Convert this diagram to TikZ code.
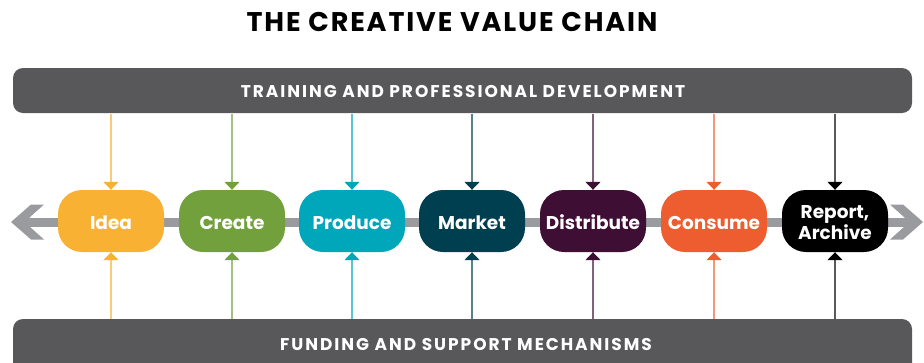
\documentclass[tikz,border=0pt]{standalone}
\usepackage{fontspec}
\setmainfont{Poppins}
\newfontfamily\barfont{Poppins}[LetterSpace=11.5]
\newfontfamily\titlefont{Poppins}[LetterSpace=7]
\usetikzlibrary{arrows.meta}

% stage colours
\definecolor{cIdea}{HTML}{F8B133}
\definecolor{cCreate}{HTML}{71A03D}
\definecolor{cProduce}{HTML}{00A6B9}
\definecolor{cMarket}{HTML}{003F50}
\definecolor{cDistribute}{HTML}{3F0E34}
\definecolor{cConsume}{HTML}{EE5D2F}
\definecolor{cReport}{HTML}{000000}
\definecolor{bargray}{HTML}{58585A}
\definecolor{axisgray}{HTML}{9A9B9F}

\tikzset{
  stage/.style={fill=#1, rounded corners=24pt, minimum width=106pt,
    minimum height=62pt, inner sep=0pt, text=white,
    font=\fontsize{18.5}{21}\selectfont\bfseries, align=center,
    text height=20pt, text depth=3pt},
  bar/.style={fill=bargray, rounded corners=10pt},
  bartext/.style={text=white, font=\barfont\fontsize{17}{19}\selectfont\bfseries},
  feed/.style={draw=#1!65, line width=1.4pt,
    -{Triangle[width=15pt,length=8pt,color=#1]}},
  axis/.style={fill=axisgray},
}

\begin{document}
\begin{tikzpicture}[x=1pt,y=-1pt]
\useasboundingbox (0,0) rectangle (924,362);
\clip (0,0) rectangle (924,362);

% title
\node[font=\titlefont\fontsize{27}{30}\selectfont\bfseries] (title) at (452,22) {THE CREATIVE VALUE CHAIN};

% top and bottom bars
\path[bar] (13,68) rectangle (912,113);
\node[bartext] (train) at (463,91.5) {TRAINING AND PROFESSIONAL DEVELOPMENT};
\path[bar] (13,319) rectangle (912,380);
\node[bartext] (fund) at (466,345) {FUNDING AND SUPPORT MECHANISMS};

% horizontal axis with double chevron heads
\path[axis] (28,217.5) rectangle (906,226.5);
\path[axis] (11,222) -- (31,204.5) -- (44,204.5) -- (29.5,217.5)
  -- (29.5,226.5) -- (44,239.5) -- (31,239.5) -- cycle;
\path[axis] (923,222) -- (903,204.5) -- (890,204.5) -- (904.5,217.5)
  -- (904.5,226.5) -- (890,239.5) -- (903,239.5) -- cycle;

% stages
\node[stage=cIdea]       (idea)  at (111,221) {Idea};
\node[stage=cCreate]     (create) at (232,221) {Create};
\node[stage=cProduce]    (produce) at (352,221) {Produce};
\node[stage=cMarket]     (market) at (472,221) {Market};
\node[stage=cDistribute] (distribute) at (593,221) {Distribute};
\node[stage=cConsume]    (consume) at (714,221) {Consume};
\node[stage=cReport, text height=, text depth=] (report) at (835,221)
  {\rule{0pt}{17pt}Report,\\[0pt]Archive};

% feeder arrows from the two bars
\foreach \n/\c in {idea/cIdea, create/cCreate, produce/cProduce,
  market/cMarket, distribute/cDistribute, consume/cConsume, report/cReport}{
  \coordinate (\n-top) at (\n.north |- 0,113.5);
  \coordinate (\n-bot) at (\n.south |- 0,319);
  \draw[feed=\c] (\n-top) -- (\n.north);
  \draw[feed=\c] (\n-bot) -- (\n.south);
}
\end{tikzpicture}
\end{document}
